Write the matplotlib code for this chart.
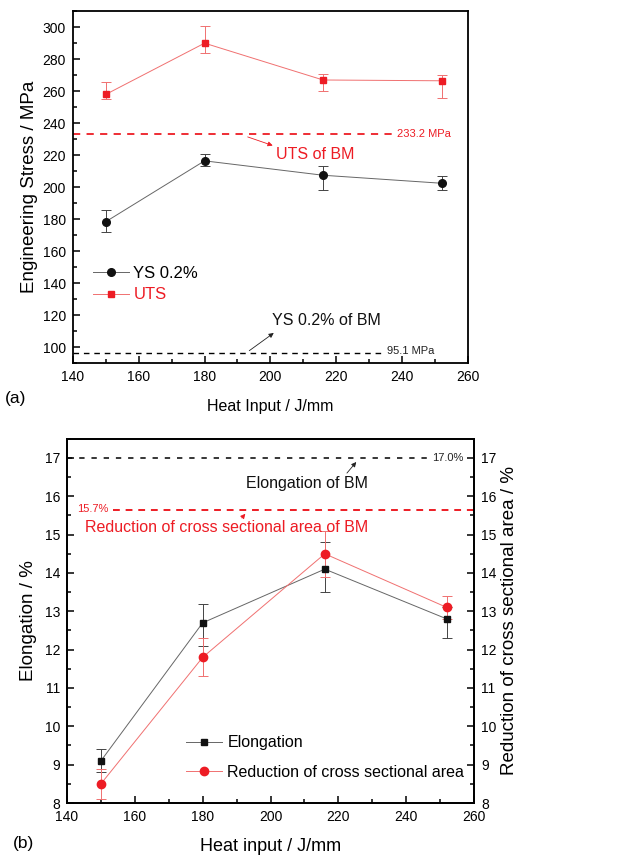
import matplotlib
matplotlib.use('Agg')
import matplotlib.pyplot as plt
from matplotlib.ticker import MultipleLocator
from matplotlib.lines import Line2D

plt.rcParams['font.family'] = ['Liberation Sans', 'DejaVu Sans']

#**************data**************
heat = [150, 180, 216, 252]

# (a) strength, MPa
ys = [178.5, 216.5, 207.5, 202.5]
ys_lo = [6.5, 3.5, 9.5, 4.5]
ys_hi = [7.5, 4.5, 5.5, 4.5]
uts = [258, 290, 267, 266.5]
uts_lo = [3, 6, 7, 10.5]
uts_hi = [8, 11, 4, 3.5]
bm_uts = 233.2
bm_ys = 96.2   # drawn a bit above the 95.1 label in the original

# (b) ductility, %
elong = [9.1, 12.7, 14.1, 12.8]
elong_lo = [0.3, 0.6, 0.6, 0.5]
elong_hi = [0.3, 0.5, 0.7, 0.3]
rca = [8.5, 11.8, 14.5, 13.1]
rca_lo = [0.4, 0.5, 0.6, 0.3]
rca_hi = [0.4, 0.5, 0.6, 0.3]
bm_elong = 17.0
bm_rca = 15.63

red = '#ed1c24'
ltred = '#f07070'
grey = '#666666'
fig = plt.figure(figsize=(6.34, 8.57), dpi=100)


def style_axis(ax):
    ax.tick_params(which='both', direction='in', labelsize=10, width=1.1, pad=5)
    ax.tick_params(which='major', length=5)
    ax.tick_params(which='minor', length=3)
    for s in ax.spines.values():
        s.set_linewidth(1.3)


#**************(a)**************
ax1 = fig.add_axes([0.115, 0.576, 0.623, 0.411])
ax1.errorbar(heat, ys, yerr=[ys_lo, ys_hi], color=grey, lw=0.7,
             marker='o', ms=5.5, mfc='#111111', mec='#111111',
             ecolor='#444444', elinewidth=0.7, capsize=3.5, capthick=0.7)
ax1.errorbar(heat, uts, yerr=[uts_lo, uts_hi], color=ltred, lw=0.7,
             marker='s', ms=5, mfc=red, mec=red,
             ecolor=ltred, elinewidth=0.7, capsize=3.5, capthick=0.7)
ax1.plot([140, 237], [bm_uts, bm_uts], ls=(0, (4, 3.5)), color=red, lw=1.3)
ax1.plot([140, 234], [bm_ys, bm_ys], ls=(0, (4, 3.5)), color='black', lw=1.0)
ax1.text(238.5, bm_uts, '233.2 MPa', color=red, fontsize=8, va='center')
ax1.text(235.5, bm_ys + 1.3, '95.1 MPa', color='#222222', fontsize=8, va='center')
ax1.annotate('', xy=(201.5, 225.5), xytext=(192.3, 232),
             arrowprops=dict(arrowstyle='-|>', color=red, lw=0.6, mutation_scale=7))
ax1.text(201.8, 220.6, 'UTS of BM', color=red, fontsize=11.5, va='center')
ax1.annotate('', xy=(201.7, 110), xytext=(192.9, 96.9),
             arrowprops=dict(arrowstyle='-|>', color='#222222', lw=0.6, mutation_scale=7))
ax1.text(200.6, 117, 'YS 0.2% of BM', color='#111111', fontsize=11.5, va='center')

ax1.set_xlim(140, 260)
ax1.set_ylim(90, 310)
ax1.xaxis.set_major_locator(MultipleLocator(20))
ax1.xaxis.set_minor_locator(MultipleLocator(10))
ax1.set_yticks(range(100, 301, 20))
ax1.yaxis.set_minor_locator(MultipleLocator(10))
style_axis(ax1)
ax1.set_xlabel('Heat Input / J/mm', fontsize=11.5)
ax1.xaxis.set_label_coords(0.5, -0.102)
ax1.set_ylabel('Engineering Stress / MPa', fontsize=13.5)
ax1.yaxis.set_label_coords(-0.089, 0.5)
h1 = [Line2D([], [], color=grey, lw=0.7, marker='o', ms=5.5, mfc='#111111', mec='#111111'),
      Line2D([], [], color=ltred, lw=0.7, marker='s', ms=5, mfc=red, mec=red)]
leg1 = ax1.legend(h1, ['YS 0.2%', 'UTS'], loc='center left', bbox_to_anchor=(0.05, 0.225),
                  frameon=False, fontsize=12, handlelength=2.2, handletextpad=0.25,
                  labelspacing=0.4, borderaxespad=0, borderpad=0)
leg1.get_texts()[1].set_color(red)
fig.text(0.008, 0.535, '(a)', fontsize=12.5, va='center')

#**************(b)**************
ax2 = fig.add_axes([0.1057, 0.063, 0.642, 0.425])
ax2.errorbar(heat, elong, yerr=[elong_lo, elong_hi], color=grey, lw=0.7,
             marker='s', ms=5, mfc='#111111', mec='#111111',
             ecolor='#444444', elinewidth=0.7, capsize=3.5, capthick=0.7)
ax2.errorbar(heat, rca, yerr=[rca_lo, rca_hi], color=ltred, lw=0.7,
             marker='o', ms=6, mfc=red, mec=red,
             ecolor=ltred, elinewidth=0.7, capsize=3.5, capthick=0.7)
ax2.plot([140, 246], [bm_elong, bm_elong], ls=(0, (3.5, 4.5)), color='black', lw=1.1)
ax2.plot([153.6, 260], [bm_rca, bm_rca], ls=(0, (3.5, 3)), color=red, lw=1.4)
ax2.text(247.5, bm_elong, '17.0%', color='#222222', fontsize=8, va='center')
ax2.text(143, bm_rca + 0.03, '15.7%', color=red, fontsize=8, va='center')
ax2.annotate('', xy=(225.8, 16.95), xytext=(222, 16.55),
             arrowprops=dict(arrowstyle='-|>', color='#222222', lw=0.6, mutation_scale=7))
ax2.text(210.8, 16.34, 'Elongation of BM', color='#111111', fontsize=11.5,
         va='center', ha='center')
ax2.annotate('', xy=(193.1, 15.6), xytext=(191, 15.38),
             arrowprops=dict(arrowstyle='-|>', color=red, lw=0.6, mutation_scale=7))
ax2.text(145.3, 15.18, 'Reduction of cross sectional area of BM', color=red,
         fontsize=11.5, va='center')

ax2.set_xlim(140, 260)
ax2.set_ylim(8, 17.5)
ax2.xaxis.set_major_locator(MultipleLocator(20))
ax2.xaxis.set_minor_locator(MultipleLocator(10))
ax2.set_yticks(range(8, 18))
ax2.yaxis.set_minor_locator(MultipleLocator(0.5))
style_axis(ax2)
ax2.set_xlabel('Heat input / J/mm', fontsize=13)
ax2.xaxis.set_label_coords(0.5, -0.096)
ax2.set_ylabel('Elongation / %', fontsize=13.5)
ax2.yaxis.set_label_coords(-0.074, 0.5)
h2 = [Line2D([], [], color=grey, lw=0.7, marker='s', ms=5, mfc='#111111', mec='#111111'),
      Line2D([], [], color=ltred, lw=0.7, marker='o', ms=6, mfc=red, mec=red)]
ax2.legend(h2, ['Elongation', 'Reduction of cross sectional area'], loc='center left',
           bbox_to_anchor=(0.292, 0.125), frameon=False, fontsize=11.5,
           handlelength=2.25, handletextpad=0.35, labelspacing=0.9,
           borderaxespad=0, borderpad=0)

ax3 = ax2.twinx()
ax3.set_ylim(8, 17.5)
ax3.set_yticks(range(8, 18))
ax3.yaxis.set_minor_locator(MultipleLocator(0.5))
style_axis(ax3)
ax3.set_ylabel('Reduction of cross sectional area / %', fontsize=13.5)
ax3.yaxis.set_label_coords(1.066, 0.5)
fig.text(0.02, 0.016, '(b)', fontsize=12.5, va='center')

fig.savefig('out.png', dpi=100)
